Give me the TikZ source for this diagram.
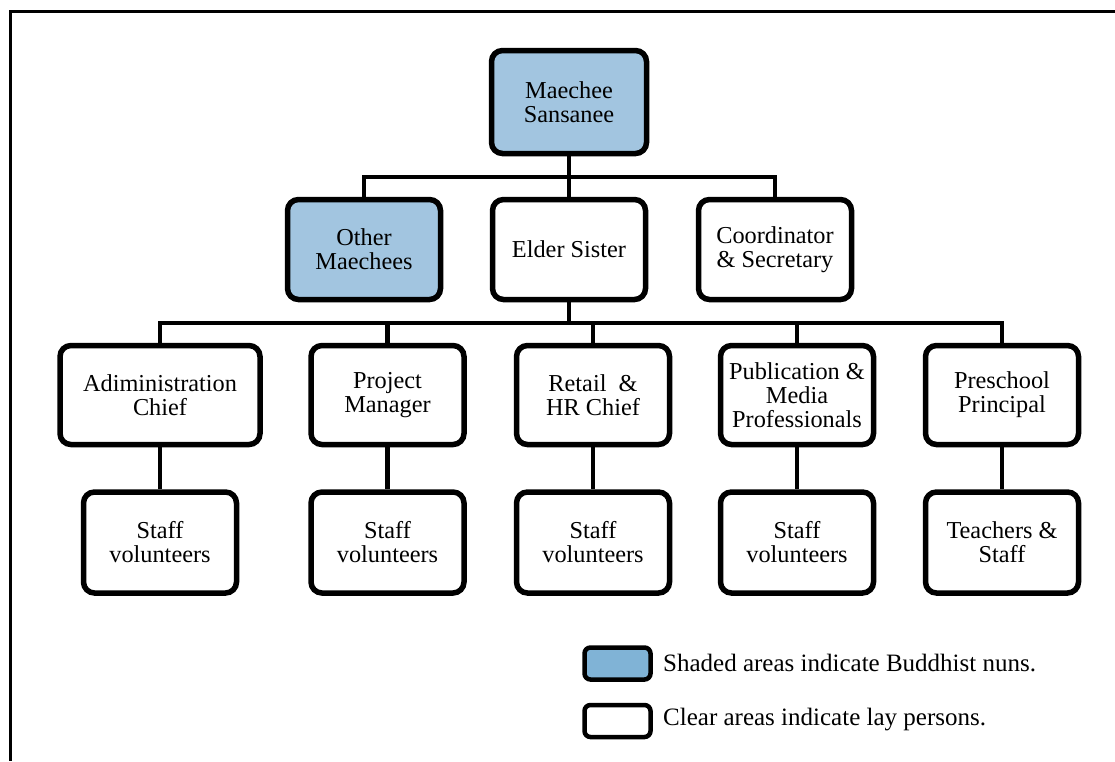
\documentclass[tikz,border=0pt]{standalone}
\usepackage{fontspec}
\setmainfont{Liberation Serif}
\definecolor{nunA}{HTML}{A2C5E0}
\definecolor{nunB}{HTML}{80B3D6}
\begin{document}
\begin{tikzpicture}[x=1pt,y=-1pt,
  box/.style={draw, line width=5.5pt, rounded corners=11pt, minimum width=153pt,
    minimum height=100pt, inner sep=0pt, align=center,
    font=\fontsize{24.3}{24}\selectfont, fill=white},
  nun/.style={box, fill=nunA},
  link/.style={line width=4.5pt},
  frameline/.style={line width=3pt},
  legbox/.style={draw, line width=4.5pt, rounded corners=6pt, minimum width=66pt,
    minimum height=32pt, inner sep=0pt},
  legtext/.style={anchor=base west, inner sep=0pt, font=\fontsize{25}{25}\selectfont}]
\useasboundingbox (0,0) rectangle (1115,761);
% frame
\coordinate (fTL) at (10,11);
\coordinate (fTR) at (1115,11);
\coordinate (fBL) at (10,761);
\draw[frameline] (fTR) -- (fTL) -- (fBL);

% level 1
\node[nun, minimum width=155pt, minimum height=103pt] (top) at (569,102) {Maechee\\Sansanee};
% level 2
\node[nun] (om) at (364,249.5) {Other\\Maechees};
\node[box] (es) at (569,249.5) {Elder Sister};
\node[box] (cs) at (775,249.5) {Coordinator\\\& Secretary};
% level 3
\node[box, minimum width=200pt, minimum height=99pt] (adm) at (160,395) {Adiministration\\Chief};
\node[box, minimum height=99pt] (pm) at (387.5,395) {Project\\Manager};
\node[box, minimum height=99pt] (rh) at (593,395) {Retail\ \ \&\\HR Chief};
\node[box, minimum height=99pt] (pub) at (797,395) {Publication \&\\Media\\Professionals};
\node[box, minimum height=99pt] (pre) at (1002,395) {Preschool\\Principal};
% level 4
\node[box, minimum height=101pt] (s1) at (160,542.5) {Staff\\volunteers};
\node[box, minimum height=101pt] (s2) at (387.5,542.5) {Staff\\volunteers};
\node[box, minimum height=101pt] (s3) at (593,542.5) {Staff\\volunteers};
\node[box, minimum height=101pt] (s4) at (797,542.5) {Staff\\volunteers};
\node[box, minimum height=101pt] (s5) at (1002,542.5) {Teachers \&\\Staff};

% connectors
\coordinate (j1) at (569,177);
\draw[link] (top.south) -- (j1);
\draw[link] (om.north) |- (j1) -| (cs.north);
\draw[link] (j1) -- (es.north);

\coordinate (j2) at (569,323);
\draw[link] (es.south) -- (j2);
\draw[link] (adm.north) |- (j2) -| (pre.north);
\draw[link] (pm.north) -- (pm.north |- j2);
\draw[link] (rh.north) -- (rh.north |- j2);
\draw[link] (pub.north) -- (pub.north |- j2);

\draw[link] (adm.south) -- (s1.north);
\draw[link] (pm.south) -- (s2.north);
\draw[link] (rh.south) -- (s3.north);
\draw[link] (pub.south) -- (s4.north);
\draw[link] (pre.south) -- (s5.north);

% legend
\node[legbox, fill=nunB] (lg1) at (617.5,663.5) {};
\node[legbox, fill=white] (lg2) at (617.5,721) {};
\node[legtext] (lt1) at (663,671) {Shaded areas indicate Buddhist nuns.};
\node[legtext] (lt2) at (663,725) {Clear areas indicate lay persons.};
\end{tikzpicture}
\end{document}
